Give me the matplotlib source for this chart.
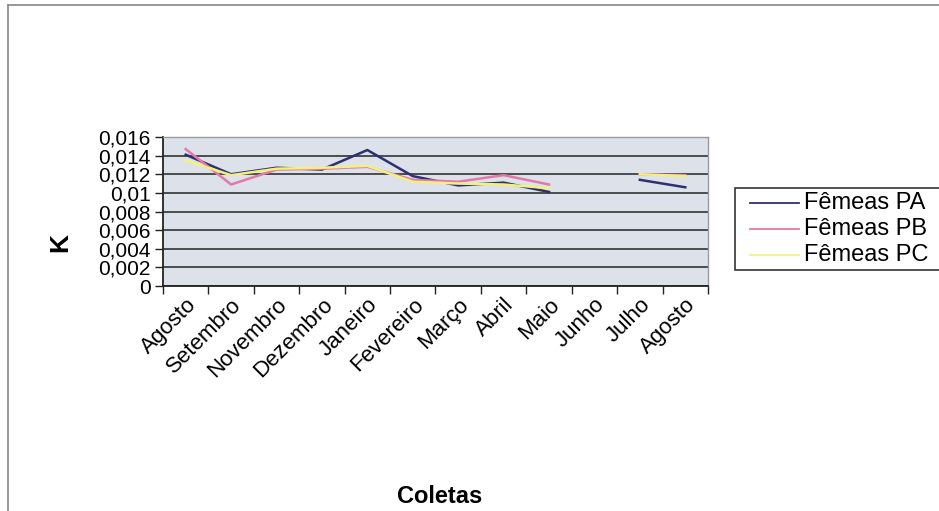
import matplotlib
matplotlib.use("Agg")
import matplotlib.pyplot as plt
import numpy as np
from matplotlib.lines import Line2D
from matplotlib.patches import Rectangle

plt.rcParams["font.family"] = ["Liberation Sans", "DejaVu Sans"]

meses = ["Agosto", "Setembro", "Novembro", "Dezembro", "Janeiro", "Fevereiro",
         "Março", "Abril", "Maio", "Junho", "Julho", "Agosto"]
nan = np.nan
femeas_pa = [0.0141, 0.0120, 0.0127, 0.0125, 0.0146, 0.0118, 0.0108, 0.0111, 0.0101, nan, 0.0114, 0.0106]
femeas_pb = [0.0147, 0.0109, 0.0125, 0.0126, 0.0128, 0.0114, 0.0112, 0.0119, 0.0109, nan, 0.0120, 0.0119]
femeas_pc = [0.0135, 0.0119, 0.0126, 0.0127, 0.0129, 0.0112, 0.0110, 0.0109, 0.0105, nan, 0.0120, 0.0118]
series = [("Fêmeas PA", femeas_pa, "#2e3170"),
          ("Fêmeas PB", femeas_pb, "#e27aa9"),
          ("Fêmeas PC", femeas_pc, "#f2f27a")]

W, H = 939, 511


def fx(px):
    return px / W


def fy(py):
    return 1 - py / H


fig = plt.figure(figsize=(W / 100, H / 100), dpi=100)
ax = fig.add_axes([fx(163), fy(286), 545 / W, 149 / H])
ax.set_facecolor("#dce1ea")

x = np.arange(len(meses))
for label, vals, color in series:
    ax.plot(x, vals, color=color, linewidth=1.8, label=label)

ax.set_xlim(-0.5, len(meses) - 0.5)
ax.set_ylim(0, 0.016)
yt = np.arange(0, 0.0161, 0.002)
ax.set_yticks(yt)
ax.set_yticklabels(["0" if v == 0 else f"{v:.3f}".rstrip("0").replace(".", ",") for v in yt],
                   fontsize=15)
ax.yaxis.grid(True, color="#333333", linewidth=1.2)
ax.set_axisbelow(True)

ax.set_xticks(x)
ax.set_xticklabels(meses, rotation=45, ha="right", rotation_mode="anchor", fontsize=16)
ax.set_xticks(np.arange(-0.5, len(meses)), minor=True)
ax.tick_params(axis="x", which="major", length=0, pad=6)
ax.tick_params(axis="x", which="minor", length=6, width=1, color="#222")
ax.tick_params(axis="y", length=6, width=1, color="#222", pad=3)

for side in ["left", "bottom"]:
    ax.spines[side].set_color("#222")
    ax.spines[side].set_linewidth(1.3)
for side in ["top", "right"]:
    ax.spines[side].set_color("#9a9a9a")
    ax.spines[side].set_linewidth(1.0)

ax.set_ylabel("K", fontsize=19, fontweight="bold")
ax.yaxis.set_label_coords((72 - 163) / 545, (286 - 242) / 149)
ax.set_xlabel("Coletas", fontsize=17, fontweight="bold")
ax.xaxis.set_label_coords((440 - 163) / 545, (286 - 485) / 149)

# legend drawn by hand so the box can run off the right edge like the original
fig.add_artist(Rectangle((fx(735), fy(270)), fx(980) - fx(735), (270 - 188) / H,
                         transform=fig.transFigure, facecolor="white",
                         edgecolor="#333", linewidth=1.2))
for i, (label, _, color) in enumerate(series):
    yy = fy(203 + 26 * i)
    fig.add_artist(Line2D([fx(750), fx(799)], [yy, yy], color=color, linewidth=1.3))
    fig.text(fx(804), yy, label, fontsize=17, va="center", ha="left")

fig.add_artist(Line2D([fx(8), fx(8)], [0, fy(5)], color="#888", linewidth=1.2))
fig.add_artist(Line2D([fx(8), 1], [fy(5), fy(5)], color="#888", linewidth=1.2))

fig.savefig("out.png", dpi=100)
